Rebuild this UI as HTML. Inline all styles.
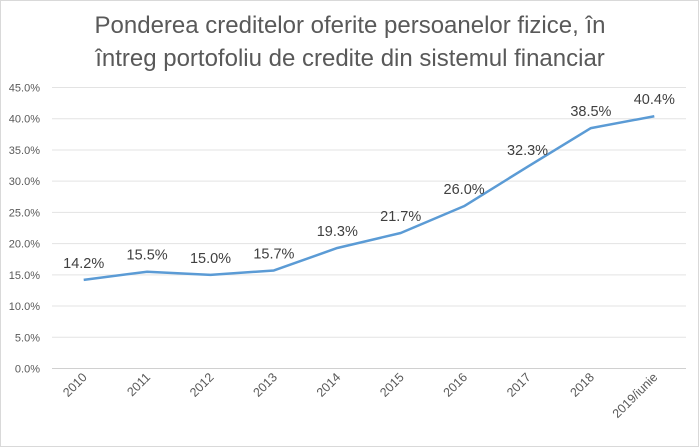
<!DOCTYPE html>
<html><head><meta charset="utf-8"><style>
body{margin:0;background:#fff;}
svg{display:block;font-family:"Liberation Sans",sans-serif;}
</style></head><body>
<svg id="chart" width="699" height="447" viewBox="0 0 699 447">
<rect x="0.5" y="0.5" width="698" height="446" fill="#fff" stroke="#d9d9d9"/>
<text x="350" y="33" text-anchor="middle" font-size="24" fill="#595959">Ponderea creditelor oferite persoanelor fizice, în</text>
<text x="350" y="66" text-anchor="middle" font-size="24" fill="#595959">întreg portofoliu de credite din sistemul financiar</text>
<g id="grid"></g><g id="yl"></g><g id="xl"></g><g id="series"></g>
</svg>
<script>
const categories=["2010","2011","2012","2013","2014","2015","2016","2017","2018","2019/iunie"];
const values=[14.2,15.5,15.0,15.7,19.3,21.7,26.0,32.3,38.5,40.4];
const yTicks=[0,5,10,15,20,25,30,35,40,45];
const NS="http://www.w3.org/2000/svg";
const x0=52,x1=686,yTop=87.5,yBot=368.5,yMax=45;
const bw=(x1-x0)/categories.length;
const xs=i=>x0+bw*(i+0.5);
const ys=v=>yBot-(v/yMax)*(yBot-yTop);
function mk(t,a,p){const e=document.createElementNS(NS,t);for(const k in a)e.setAttribute(k,a[k]);p.appendChild(e);return e;}
const grid=document.getElementById('grid'),yl=document.getElementById('yl'),xl=document.getElementById('xl'),ser=document.getElementById('series');
yTicks.forEach(t=>{
 const l=mk('line',{x1:x0,x2:x1,y1:ys(t),y2:ys(t),stroke:t===0?'#d0d0d0':'#e3e3e3','stroke-width':1},grid);
 
 
 const tx=mk('text',{x:40,y:ys(t)+4,'text-anchor':'end','font-size':11,fill:'#595959'},yl);
 tx.textContent=t.toFixed(1)+'%';
 
 
});
categories.forEach((c,i)=>{
 const x=xs(i)+4,y=378;
 const tx=mk('text',{x:x,y:y,'text-anchor':'end','font-size':12.5,fill:'#595959',transform:`rotate(-45 ${x} ${y})`},xl);
 tx.textContent=c;
 
 
});
const pl=mk('polyline',{points:values.map((v,i)=>xs(i)+','+ys(v)).join(' '),fill:'none',stroke:'#5b9bd5','stroke-width':2.5,'stroke-linejoin':'round'},ser);


values.forEach((v,i)=>{
 const tx=mk('text',{x:xs(i),y:ys(v)-12,'text-anchor':'middle','font-size':14.5,fill:'#404040'},ser);
 tx.textContent=v.toFixed(1)+'%';
 
 
});
</script>
</body></html>
